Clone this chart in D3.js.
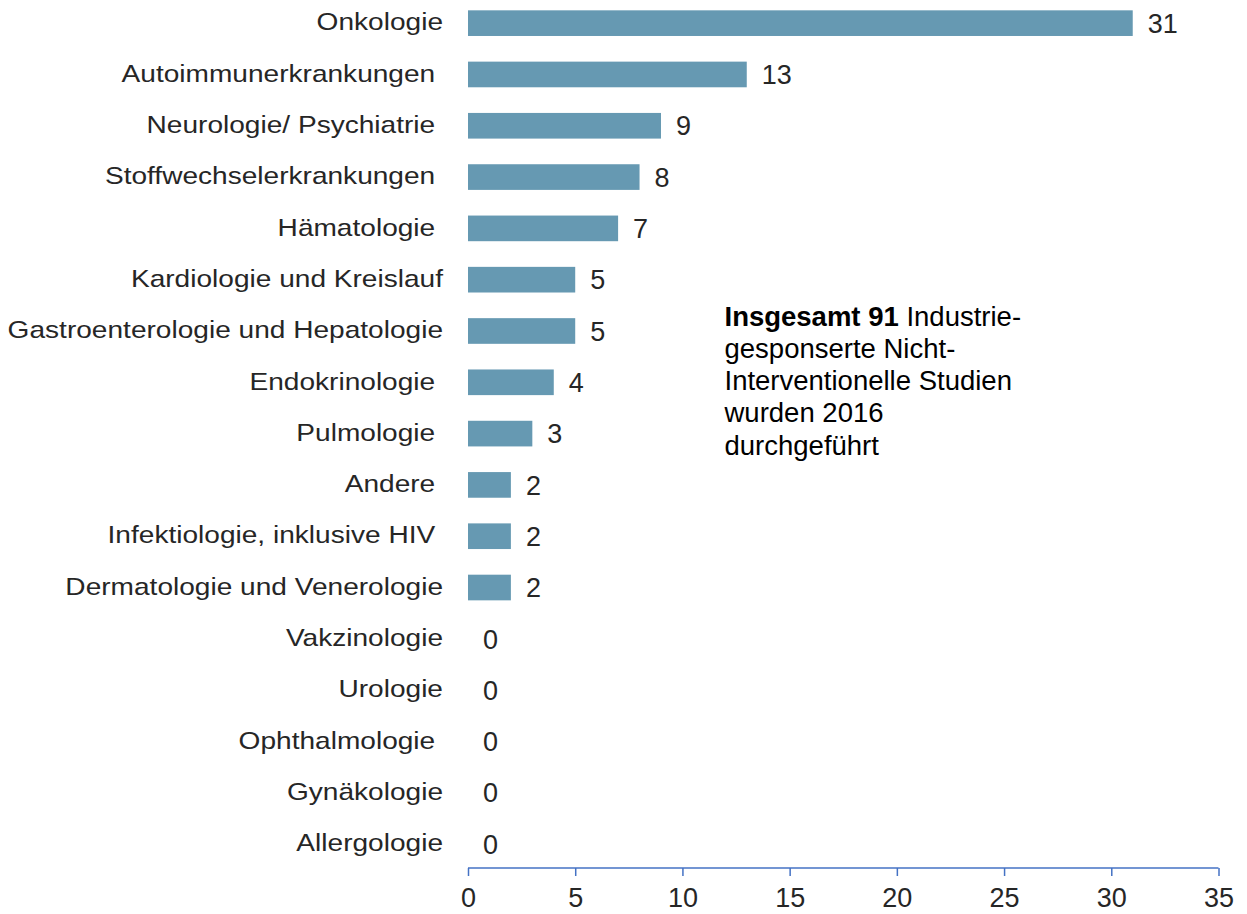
<!DOCTYPE html>
<html>
<head>
<meta charset="utf-8">
<script src="https://cdn.jsdelivr.net/npm/d3@7"></script>
<style>
  body { margin: 0; background: #fff; }
  svg text { font-family: "Liberation Sans", Arial, sans-serif; fill: #262626; white-space: pre; }
</style>
</head>
<body>
<svg id="chart" width="1247" height="914"></svg>
<script>
// categories (trailing spaces as in the original labels)
const categories = [
  'Onkologie', 'Autoimmunerkrankungen ', 'Neurologie/ Psychiatrie ', 'Stoffwechselerkrankungen ',
  'Hämatologie ', 'Kardiologie und Kreislauf', 'Gastroenterologie und Hepatologie', 'Endokrinologie ',
  'Pulmologie ', 'Andere ', 'Infektiologie, inklusive HIV ', 'Dermatologie und Venerologie',
  'Vakzinologie', 'Urologie', 'Ophthalmologie ', 'Gynäkologie', 'Allergologie'
];
const values = [31, 13, 9, 8, 7, 5, 5, 4, 3, 2, 2, 2, 0, 0, 0, 0, 0];
const xTicks = [0, 5, 10, 15, 20, 25, 30, 35];
const noteLines = [
  [['Insgesamt 91', true], [' Industrie-', false]],
  [['gesponserte Nicht-', false]],
  [['Interventionelle Studien', false]],
  [['wurden 2016', false]],
  [['durchgeführt', false]]
];

const svg = d3.select('#chart');
const x0 = 468, x1 = 1218.5, axisY = 868;

const x = d3.scaleLinear().domain([0, 35]).range([x0, x1]);
const y = d3.scaleBand().domain(d3.range(categories.length))
  .range([-2.5, 869.7]).paddingInner(0.5).paddingOuter(0.25);
const cy = i => y(i) + y.bandwidth() / 2;

// bars
svg.selectAll('.bar')
  .data(values)
  .enter().append('rect')
  .attr('class', 'bar')
  .attr('x', x(0))
  .attr('y', (d, i) => y(i))
  .attr('width', d => x(d) - x(0))
  .attr('height', y.bandwidth())
  .attr('fill', '#6699b2');

// category labels (slightly wide lettering in the original)
svg.selectAll('.cat')
  .data(categories)
  .enter().append('text')
  .attr('transform', (d, i) => `translate(443,${cy(i)}) scale(1.17,1)`)
  .attr('dy', '0.3em')
  .attr('text-anchor', 'end')
  .attr('font-size', 24)
  .text(d => d);

// value labels
svg.selectAll('.val')
  .data(values)
  .enter().append('text')
  .attr('x', d => x(d) + 15)
  .attr('y', (d, i) => cy(i))
  .attr('dy', '0.36em')
  .attr('font-size', 27)
  .text(d => d);

// x axis
const axis = svg.append('g')
  .attr('transform', `translate(0,${axisY})`)
  .call(d3.axisBottom(x).tickValues(xTicks).tickSize(8).tickPadding(12));
axis.select('.domain').attr('stroke', '#4472c4').attr('stroke-width', 1.5)
  .attr('d', `M${x0},0H${x1}`);
axis.selectAll('.tick line').attr('stroke', '#4472c4').attr('stroke-width', 1.5);
axis.selectAll('.tick text').attr('font-size', 27).attr('fill', '#262626')
  .style('font-family', '"Liberation Sans", Arial, sans-serif');

// note
const note = svg.append('text').attr('x', 724.5).attr('y', 325.5).attr('font-size', 27.5)
  .style('fill', '#000');
noteLines.forEach((line, i) => {
  line.forEach(([t, bold], j) => {
    const s = note.append('tspan').text(t).attr('font-weight', bold ? 'bold' : null);
    if (j === 0) s.attr('x', 724.5).attr('dy', i === 0 ? 0 : 32.3);
  });
});
</script>
</body>
</html>
